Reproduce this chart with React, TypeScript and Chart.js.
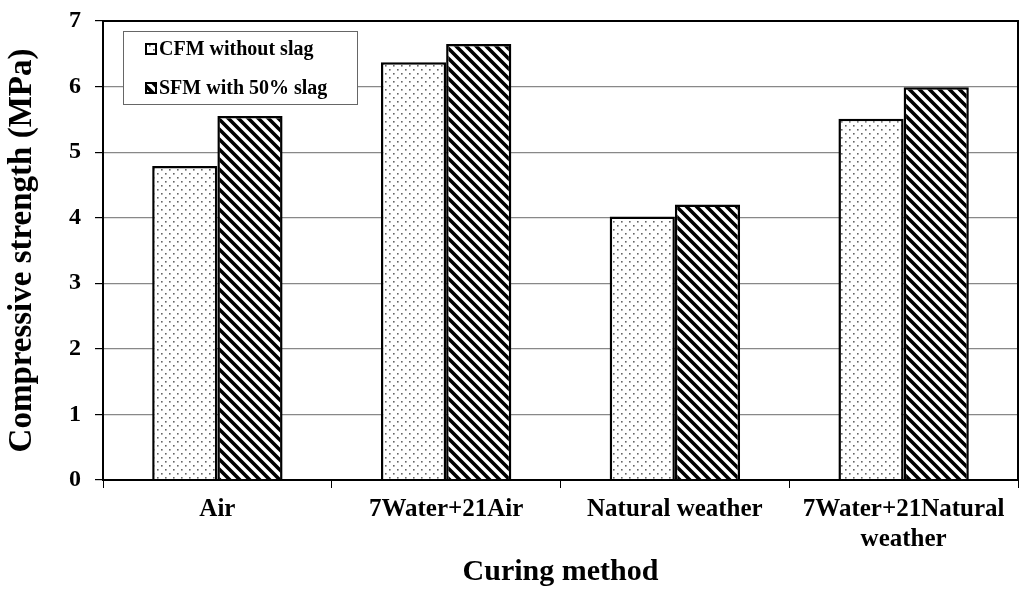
import React, { useEffect, useRef } from "react";
import { Chart, registerables } from "chart.js";
Chart.register(...registerables);

const categories: (string | string[])[] = ["Air", "7Water+21Air", "Natural weather", ["7Water+21Natural", "weather"]];
const seriesNames = ["CFM without slag", "SFM with 50% slag"];
const cfmValues = [4.79, 6.37, 4.02, 5.51];
const sfmValues = [5.55, 6.65, 4.2, 5.99];
const yTicks = [0, 1, 2, 3, 4, 5, 6, 7];

const FONT = "'Liberation Serif', 'Times New Roman', serif";

function makeDots(): CanvasPattern | string {
  const c = document.createElement("canvas");
  c.width = 8; c.height = 8;
  const g = c.getContext("2d")!;
  g.fillStyle = "#ffffff"; g.fillRect(0, 0, 8, 8);
  g.fillStyle = "#666666";
  g.fillRect(1, 1, 1.6, 1.6);
  g.fillRect(5, 5, 1.6, 1.6);
  const p = g.createPattern(c, "repeat");
  return p || "#eee";
}

function makeHatch(): CanvasPattern | string {
  const s = 10;
  const c = document.createElement("canvas");
  c.width = s; c.height = s;
  const g = c.getContext("2d")!;
  g.fillStyle = "#ffffff"; g.fillRect(0, 0, s, s);
  g.strokeStyle = "#000000"; g.lineWidth = 3.6;
  g.beginPath();
  g.moveTo(-2, -2); g.lineTo(s + 2, s + 2);
  g.moveTo(-2 - s, -2); g.lineTo(2, s + 2);
  g.moveTo(s - 2, -2); g.lineTo(2 * s + 2, s + 2);
  g.stroke();
  const p = g.createPattern(c, "repeat");
  return p || "#333";
}

export default function App() {
  const ref = useRef<HTMLCanvasElement>(null);
  useEffect(() => {
    document.body.style.margin = "0";
    const dots = makeDots();
    const hatch = makeHatch();
    const legendPlugin = {
      id: "innerLegend",
      afterDraw(chart: any) {
        const ctx = chart.ctx as CanvasRenderingContext2D;
        const a = chart.chartArea;
        const x = a.left + 20, y = a.top + 10, w = 234, h = 73;
        ctx.save();
        ctx.fillStyle = "#fff";
        ctx.fillRect(x, y, w, h);
        ctx.strokeStyle = "#666"; ctx.lineWidth = 1;
        ctx.strokeRect(x + 0.5, y + 0.5, w, h);
        const fills = [dots, hatch];
        ctx.font = `bold 20px ${FONT}`;
        ctx.textBaseline = "middle";
        seriesNames.forEach((n, i) => {
          const cy = y + 18 + i * 39;
          ctx.fillStyle = fills[i] as any;
          ctx.fillRect(x + 23, cy - 5, 10, 10);
          ctx.strokeStyle = "#000"; ctx.lineWidth = 2;
          ctx.strokeRect(x + 23, cy - 5, 10, 10);
          ctx.fillStyle = "#000";
          ctx.fillText(n, x + 36, cy + 1);
        });
        ctx.restore();
      },
    };
    const borderPlugin = {
      id: "areaBorder",
      afterDatasetsDraw(chart: any) {
        const ctx = chart.ctx as CanvasRenderingContext2D;
        const a = chart.chartArea;
        ctx.save();
        ctx.strokeStyle = "#000"; ctx.lineWidth = 2;
        ctx.strokeRect(a.left, a.top, a.right - a.left, a.bottom - a.top);
        ctx.restore();
      },
    };
    const chart = new Chart(ref.current!, {
      type: "bar",
      data: {
        labels: categories,
        datasets: [
          { label: seriesNames[0], data: cfmValues, backgroundColor: dots as any, borderColor: "#000", borderWidth: 2.5, borderSkipped: "bottom", categoryPercentage: 0.57, barPercentage: 1 },
          { label: seriesNames[1], data: sfmValues, backgroundColor: hatch as any, borderColor: "#000", borderWidth: 2.5, borderSkipped: "bottom", categoryPercentage: 0.57, barPercentage: 1 },
        ],
      },
      options: {
        animation: false,
        responsive: false,
        layout: { padding: { top: 21, right: 6, left: 0, bottom: 0 } },
        plugins: { legend: { display: false }, tooltip: { enabled: false } },
        scales: {
          x: {
            afterFit: (s: any) => { s.height = 116; s.paddingLeft = 0; s.paddingRight = 0; },
            grid: { drawOnChartArea: false, drawTicks: true, tickLength: 8, offset: true, color: "#000", lineWidth: 1 },
            border: { color: "#000", width: 2 },
            ticks: { color: "#000", font: { family: FONT, size: 25, weight: "bold" }, maxRotation: 0, padding: 7 },
            title: { display: true, text: "Curing method", color: "#000", font: { family: FONT, size: 30, weight: "bold" }, padding: { top: 4, bottom: 6 } },
          },
          y: {
            min: 0, max: 7,
            afterFit: (s: any) => { s.width = 103; s.paddingTop = 0; s.paddingBottom = 0; },
            afterBuildTicks: (s: any) => { s.ticks = yTicks.map((v) => ({ value: v })); },
            grid: { color: "#888", lineWidth: 1.2, tickLength: 8, drawTicks: true, tickColor: "#000" },
            border: { color: "#000", width: 2 },
            ticks: { color: "#000", font: { family: FONT, size: 24, weight: "bold" }, padding: 14 },
            title: { display: true, text: "Compressive strength (MPa)", color: "#000", font: { family: FONT, size: 33, weight: "bold" }, padding: { top: 3, bottom: 0 } },
          },
        },
      },
      plugins: [borderPlugin, legendPlugin],
    });
    return () => chart.destroy();
  }, []);
  return <canvas ref={ref} width={1024} height={596} style={{ display: "block" }} />;
}
